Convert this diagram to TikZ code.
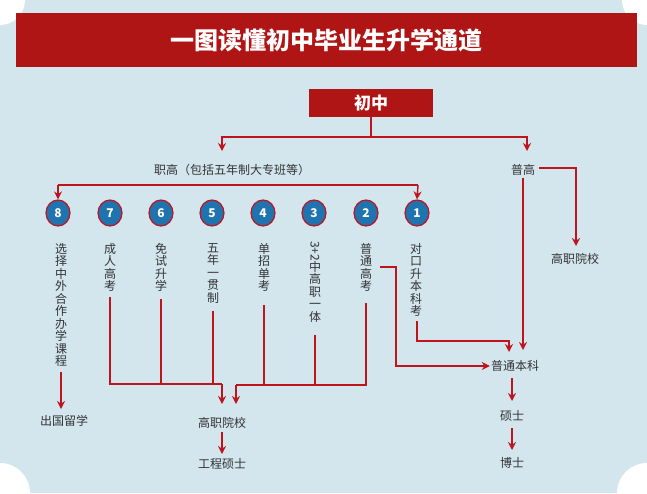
\documentclass[tikz,border=0pt]{standalone}
\usepackage{fontspec}
\setmainfont{Noto Sans CJK SC}
\usetikzlibrary{arrows.meta,shapes.geometric}
\definecolor{bg}{HTML}{D3E6EE}
\definecolor{rd}{HTML}{B01515}
\definecolor{ln}{HTML}{C0141C}
\definecolor{bl}{HTML}{1F73AE}
\definecolor{tx}{HTML}{333333}
\begin{document}
\begin{tikzpicture}[x=1pt,y=-1pt,
 ar/.style={draw=ln,line width=1.5pt,-{Stealth[length=8pt,width=8pt]}},
 li/.style={draw=ln,line width=1.5pt},
 lb/.style={font=\fontsize{12}{13}\selectfont,text=tx,inner sep=1pt},
 vt/.style={font=\fontsize{12}{12.5}\selectfont,text=tx,align=center,anchor=north,inner sep=0pt},
 num/.style={ellipse,fill=bl,draw=ln,line width=1.2pt,minimum width=24pt,minimum height=26pt,inner sep=0pt,text=white,font=\bfseries\fontsize{12}{12}\selectfont}]
\useasboundingbox (0,0) rectangle (647,493);
\fill[bg] (0,0) rectangle (647,493);
\fill[white] (0,0) circle (25) (647,0) circle (25) (0,493) circle (30) (647,493) circle (30);
\fill[rd] (16,13) rectangle (637,67);
\node[text=white,font=\bfseries\fontsize{24}{24}\selectfont] (title) at (326,40) {一图读懂初中毕业生升学通道};
\node[fill=rd,minimum width=124pt,minimum height=28pt,text=white,font=\bfseries\fontsize{17}{17}\selectfont,inner sep=0pt] (cz) at (371,103) {初中};
\coordinate (s) at (371,137);
\draw[li] (cz.south) -- (s);
\node[lb] (zg) at (232,170) {职高（包括五年制大专班等）};
\node[lb] (pg) at (523,170) {普高};
\coordinate (za) at (222,151);
\coordinate (pa) at (527,151);
\draw[ar] (s) -| (za);
\draw[ar] (s) -| (pa);
\foreach \n/\x in {8/58,7/110,6/161,5/212,4/263,3/314,2/366,1/417}{
 \node[num] (c\n) at (\x,213) {\n};}
\coordinate (zl) at (58,185);
\coordinate (zr) at (418,185);
\draw[ar] (zl) -- (c8.north);
\draw[li] (zl) -- (zr);
\draw[ar] (zr) -- (c1.north);
\node[vt] (t8) at (61,243) {选\\择\\中\\外\\合\\作\\办\\学\\课\\程};
\node[vt] (t7) at (110,243) {成\\人\\高\\考};
\node[vt] (t6) at (161,243) {免\\试\\升\\学};
\node[vt] (t5) at (213,243) {五\\年\\一\\贯\\制};
\node[vt] (t4) at (264,243) {单\\招\\单\\考};
\node[vt] (t3) at (315,241) {\rotatebox{-90}{3+2}\\[-1pt]中\\高\\职\\一\\体};
\node[vt] (t2) at (366,243) {普\\通\\高\\考};
\node[vt] (t1) at (416,243) {对\\口\\升\\本\\科\\考};
\node[lb] (cg) at (64,421) {出国留学};
\node[lb] (gz) at (222,423) {高职院校};
\node[lb] (gc) at (222,464) {工程硕士};
\node[lb] (gz2) at (575,259) {高职院校};
\node[lb] (bk) at (515,366) {普通本科};
\node[lb] (ss) at (512,416) {硕士};
\node[lb] (bs) at (512,463) {博士};
\coordinate (t8b) at (61,372);
\draw[ar] (t8b) -- (61,409);
\draw[li] (110,297) -- (110,384) -- (222,384);
\draw[li] (161,299) -- (161,384);
\draw[li] (213,311) -- (213,384);
\draw[ar] (222,384) -- (222,404);
\draw[li] (264,305) -- (264,385);
\draw[li] (315,335) -- (315,385);
\draw[li] (366,303) -- (366,385) -- (236,385);
\draw[ar] (236,385) -- (236,404);
\draw[ar] (380,267) -- (396,267) -- (396,366) -- (bk.west);
\draw[ar] (417,321) -- (417,341) -- (509,341) -- (509,352);
\draw[ar] (523,178) -- (523,350);
\draw[ar] (539,168) -- (576,168) -- (576,246);
\draw[ar] (512,378) -- (512,401);
\draw[ar] (512,428) -- (512,450);
\draw[ar] (222,432) -- (222,454);
\end{tikzpicture}
\end{document}
